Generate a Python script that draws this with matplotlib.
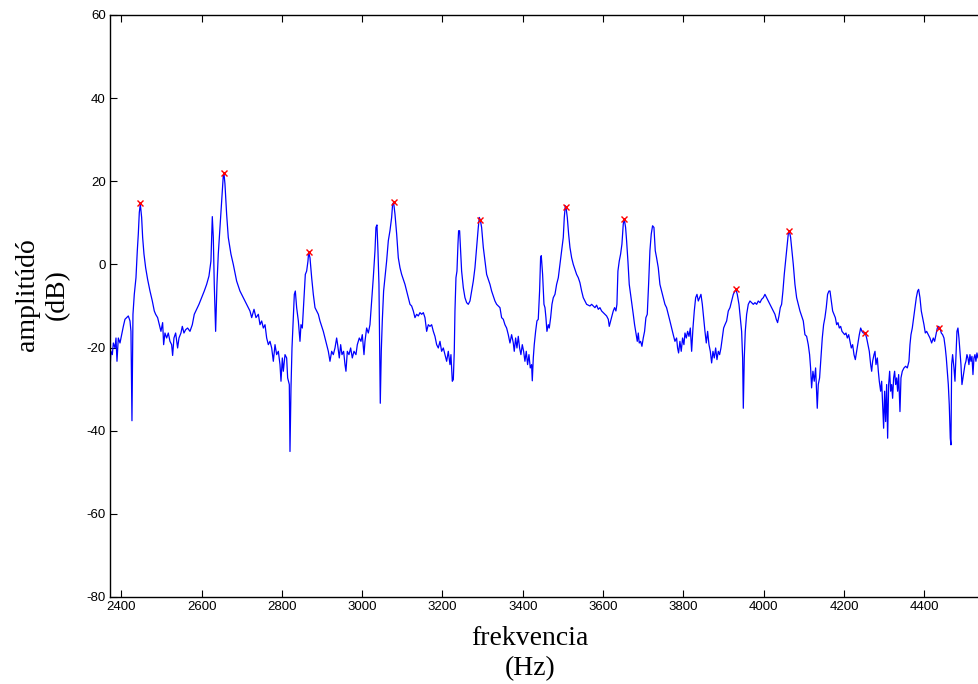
import matplotlib
matplotlib.use("Agg")
import matplotlib.pyplot as plt

plt.rcParams["axes.unicode_minus"] = False

# spectrum (Hz, dB)
freq_hz = [
    # 2372 - 2720
    2372.0, 2372.5, 2374.3, 2377.7, 2380.2, 2384.3, 2386.8, 2389.3, 2392.6, 2396.8,
    2400.9, 2405.1, 2409.2, 2413.4, 2417.5, 2421.7, 2424.1, 2426.6, 2429.1, 2432.4,
    2436.6, 2439.9, 2442.4, 2444.9, 2447.4, 2450.7, 2453.2, 2456.5, 2460.7, 2465.6,
    2471.5, 2477.3, 2482.2, 2485.6, 2490.5, 2494.7, 2498.8, 2503.0, 2505.5, 2508.8,
    2513.0, 2517.1, 2521.3, 2525.4, 2527.9, 2531.2, 2535.4, 2540.3, 2543.7, 2548.6,
    2552.0, 2556.1, 2560.3, 2565.2, 2571.1, 2576.9, 2581.8, 2587.7, 2593.5, 2600.1,
    2606.7, 2612.6, 2618.4, 2623.3, 2626.7, 2629.2, 2631.6, 2635.0, 2638.3, 2641.6,
    2645.8, 2649.9, 2654.1, 2655.7, 2658.2, 2662.4, 2666.5, 2673.1, 2679.0, 2687.3,
    2695.6, 2703.9, 2712.2, 2720.5,
    # 2720 - 3082
    2724.8, 2730.6, 2735.5, 2741.4, 2745.5, 2749.7, 2753.8, 2758.0, 2762.1, 2766.3,
    2770.4, 2774.6, 2778.7, 2782.9, 2787.0, 2791.2, 2795.3, 2797.8, 2801.1, 2803.6,
    2807.8, 2811.9, 2814.4, 2818.5, 2820.2, 2822.7, 2825.2, 2828.5, 2831.0, 2833.5,
    2836.8, 2841.0, 2845.1, 2847.6, 2850.9, 2855.1, 2858.4, 2861.7, 2865.0, 2866.7,
    2870.0, 2874.2, 2878.3, 2882.5, 2886.6, 2890.8, 2894.9, 2899.1, 2903.2, 2907.4,
    2911.5, 2915.7, 2919.8, 2924.0, 2928.1, 2932.3, 2936.4, 2938.9, 2943.0, 2946.4,
    2949.7, 2953.8, 2957.2, 2959.6, 2963.0, 2967.1, 2971.3, 2975.4, 2979.6, 2984.5,
    2987.9, 2992.8, 2997.0, 3000.3, 3004.5, 3007.0, 3011.1, 3015.3, 3019.4, 3023.6,
    3027.7, 3031.9, 3034.3, 3036.8, 3039.3, 3041.8, 3045.1, 3047.6, 3050.1, 3053.4,
    3056.8, 3060.9, 3065.1, 3069.2, 3073.4, 3075.8, 3078.3, 3081.7,
    # 3082 - 3444
    3085.9, 3090.0, 3094.2, 3098.3, 3102.5, 3106.6, 3110.8, 3114.9, 3119.1, 3123.2,
    3127.4, 3131.5, 3135.7, 3139.8, 3144.0, 3148.1, 3152.3, 3156.4, 3160.6, 3164.7,
    3168.9, 3173.0, 3177.2, 3181.3, 3185.5, 3189.6, 3193.8, 3197.9, 3202.1, 3206.2,
    3210.4, 3214.5, 3218.7, 3221.1, 3224.5, 3227.0, 3229.4, 3231.1, 3233.6, 3236.1,
    3238.6, 3240.2, 3242.7, 3245.2, 3247.7, 3251.9, 3256.0, 3260.2, 3264.3, 3268.5,
    3272.6, 3276.8, 3280.9, 3285.1, 3289.2, 3291.7, 3294.2, 3297.5, 3301.7, 3305.8,
    3310.0, 3314.1, 3318.3, 3322.4, 3326.6, 3330.7, 3334.9, 3339.0, 3343.2, 3347.3,
    3351.5, 3355.6, 3359.8, 3363.9, 3368.1, 3372.2, 3376.4, 3378.8, 3382.2, 3385.5,
    3388.8, 3392.1, 3395.4, 3398.8, 3402.1, 3405.4, 3408.7, 3412.0, 3415.4, 3418.7,
    3422.0, 3423.7, 3426.2, 3428.6, 3432.0, 3435.3, 3438.6, 3441.9, 3444.4,
    # 3444 - 3802
    3446.1, 3449.4, 3452.8, 3455.3, 3457.7, 3460.2, 3463.6, 3466.0, 3469.4, 3472.7,
    3476.0, 3480.2, 3484.3, 3488.5, 3492.6, 3496.8, 3500.9, 3503.4, 3505.9, 3507.5,
    3510.9, 3514.2, 3517.5, 3521.7, 3525.8, 3530.0, 3534.1, 3538.3, 3542.4, 3546.6,
    3550.7, 3554.9, 3559.0, 3563.2, 3567.3, 3571.5, 3575.6, 3579.8, 3583.9, 3588.1,
    3592.2, 3596.4, 3600.5, 3604.7, 3608.8, 3613.0, 3615.4, 3618.8, 3622.1, 3625.4,
    3628.7, 3632.0, 3634.5, 3637.0, 3640.3, 3643.7, 3647.0, 3650.3, 3652.8, 3656.1,
    3658.6, 3661.9, 3665.2, 3668.6, 3671.9, 3675.2, 3678.5, 3681.8, 3685.2, 3687.7,
    3690.1, 3693.5, 3696.8, 3700.1, 3703.4, 3706.7, 3710.1, 3713.4, 3716.7, 3720.0,
    3723.3, 3726.7, 3730.0, 3733.3, 3737.5, 3741.6, 3745.8, 3749.9, 3754.1, 3758.2,
    3762.4, 3766.5, 3770.7, 3774.8, 3779.0, 3783.1, 3785.6, 3788.1, 3791.4, 3794.7,
    3798.0, 3801.4,
    # 3804 - 4163
    3804.0, 3807.3, 3810.6, 3814.0, 3817.3, 3820.6, 3823.9, 3827.2, 3830.6, 3833.9,
    3837.2, 3840.5, 3843.8, 3847.2, 3850.5, 3853.8, 3857.1, 3860.4, 3863.8, 3867.1,
    3870.4, 3873.7, 3877.0, 3880.4, 3883.7, 3887.0, 3890.3, 3893.6, 3897.0, 3900.3,
    3903.6, 3907.8, 3911.9, 3916.1, 3920.2, 3924.4, 3928.5, 3931.0, 3934.3, 3938.5,
    3941.8, 3945.1, 3947.6, 3949.3, 3951.7, 3954.2, 3957.6, 3961.7, 3965.9, 3970.0,
    3974.2, 3978.3, 3982.5, 3986.6, 3990.8, 3994.9, 3999.1, 4003.2, 4007.4, 4011.5,
    4015.7, 4019.8, 4024.0, 4028.1, 4031.4, 4034.7, 4038.1, 4041.4, 4044.7, 4048.0,
    4051.3, 4054.7, 4058.0, 4061.3, 4063.8, 4067.1, 4070.4, 4073.8, 4077.9, 4082.1,
    4086.2, 4090.4, 4094.5, 4098.7, 4102.8, 4107.0, 4111.1, 4114.4, 4116.9, 4119.4,
    4122.7, 4126.0, 4129.4, 4131.9, 4133.5, 4136.0, 4139.3, 4142.6, 4146.0, 4149.3,
    4152.6, 4155.9, 4159.2, 4162.6,
    # 4165 - 4536
    4165.2, 4168.5, 4171.8, 4175.2, 4178.5, 4181.8, 4185.1, 4188.4, 4191.8, 4195.1,
    4198.4, 4201.7, 4205.0, 4208.4, 4211.7, 4215.0, 4218.3, 4221.6, 4225.0, 4228.3,
    4231.6, 4234.9, 4238.2, 4241.6, 4244.9, 4248.2, 4253.2, 4256.5, 4259.8, 4263.1,
    4266.5, 4269.0, 4271.4, 4274.8, 4277.3, 4279.7, 4283.1, 4285.6, 4288.0, 4291.4,
    4293.9, 4296.3, 4298.8, 4301.3, 4303.8, 4306.3, 4308.8, 4311.3, 4313.8, 4316.3,
    4318.8, 4321.2, 4323.7, 4326.2, 4328.7, 4331.2, 4333.7, 4336.2, 4339.5, 4342.0,
    4345.3, 4349.5, 4353.6, 4357.8, 4361.9, 4364.4, 4366.9, 4370.2, 4373.5, 4376.9,
    4380.2, 4383.5, 4386.0, 4389.3, 4392.6, 4395.9, 4399.3, 4402.6, 4405.9, 4410.1,
    4414.2, 4418.4, 4422.5, 4425.8, 4429.1, 4432.5, 4435.8, 4439.1, 4442.4, 4445.7,
    4449.1, 4452.4, 4454.9, 4457.4, 4459.9, 4462.3, 4464.8, 4466.5, 4468.2, 4470.6,
    4474.0, 4476.5, 4478.9, 4481.4, 4483.9, 4486.4, 4488.9, 4491.4, 4493.9, 4496.4,
    4498.9, 4501.4, 4503.8, 4506.3, 4508.8, 4511.3, 4513.8, 4516.3, 4518.8, 4521.3,
    4523.8, 4526.3, 4528.7, 4531.2, 4533.7, 4536.2,
]

amp_db = [
    # 2372 - 2720
    -31.8, -24.1, -20.9, -21.7, -18.9, -20.1, -17.7, -23.3, -17.7, -18.9,
    -16.9, -14.9, -13.2, -12.8, -12.4, -13.6, -16.1, -37.6, -12.0, -7.2,
    -3.2, 3.3, 7.3, 12.5, 14.5, 11.3, 6.5, 2.5, -0.8, -3.6,
    -6.4, -8.8, -11.2, -12.0, -12.8, -14.5, -16.1, -14.0, -19.3, -16.5,
    -17.7, -16.5, -18.5, -19.3, -21.9, -17.7, -16.5, -20.1, -17.7, -16.5,
    -14.9, -16.5, -15.7, -15.3, -16.1, -14.5, -12.0, -10.8, -9.6, -8.0,
    -6.4, -4.8, -2.8, 0.8, 11.5, 6.5, -4.8, -16.1, -4.8, 2.5,
    8.9, 15.3, 21.4, 21.9, 19.4, 12.1, 6.5, 2.5, 0.0, -4.0,
    -6.4, -8.0, -9.6, -11.2,
    # 2720 - 3082
    -12.8, -10.8, -12.8, -12.0, -14.5, -13.6, -15.3, -14.5, -17.7, -19.3,
    -18.5, -20.1, -23.3, -19.3, -21.7, -20.9, -24.1, -28.1, -22.5, -25.7,
    -21.7, -22.5, -27.3, -28.9, -45.0, -29.7, -20.1, -12.8, -7.2, -6.4,
    -10.4, -13.6, -18.5, -14.5, -15.3, -8.0, -2.4, -1.6, 0.8, 3.0,
    1.6, -3.2, -7.2, -10.4, -11.2, -12.0, -13.6, -14.9, -16.1, -17.7,
    -19.3, -20.9, -23.3, -20.9, -21.7, -20.1, -17.7, -19.3, -22.5, -19.3,
    -21.7, -20.9, -24.1, -25.7, -20.9, -21.7, -20.1, -22.5, -20.9, -21.7,
    -19.3, -17.7, -18.5, -16.9, -21.7, -18.5, -15.3, -16.5, -14.5, -8.8,
    -3.2, 3.3, 8.9, 9.5, 3.3, -4.8, -33.4, -20.9, -13.6, -6.4,
    -3.2, 0.8, 5.7, 8.1, 11.3, 14.5, 14.9, 12.1,
    # 3082 - 3444
    7.3, 1.6, -0.8, -2.4, -3.6, -4.8, -6.4, -8.0, -9.6, -10.0,
    -11.2, -12.8, -12.0, -12.4, -11.6, -12.0, -11.6, -12.8, -16.1, -14.5,
    -14.9, -14.5, -16.1, -17.3, -19.3, -20.1, -18.5, -20.9, -20.1, -21.7,
    -23.3, -20.9, -24.1, -21.7, -28.1, -27.7, -20.9, -11.2, -3.2, -1.6,
    4.9, 8.1, 8.1, 3.3, -1.6, -5.6, -8.0, -9.2, -9.6, -8.8,
    -6.4, -4.0, -0.8, 4.1, 8.9, 11.3, 10.7, 8.9, 4.1, 0.8,
    -2.4, -3.6, -4.8, -6.4, -7.6, -8.8, -9.6, -10.0, -10.4, -12.8,
    -13.2, -14.5, -15.3, -16.9, -18.9, -16.9, -18.9, -20.9, -17.7, -20.1,
    -17.3, -20.1, -21.7, -19.3, -20.9, -23.3, -20.9, -24.1, -21.7, -24.9,
    -24.1, -28.0, -22.5, -19.3, -16.1, -13.6, -13.2, -6.4, 1.6,
    # 3444 - 3802
    2.1, -2.4, -9.6, -10.4, -12.8, -16.1, -14.5, -15.3, -12.8, -9.6,
    -8.0, -7.2, -4.8, -3.2, 0.0, 3.3, 6.5, 11.3, 14.1, 13.9,
    11.3, 7.3, 4.1, 1.6, 0.0, -1.2, -2.4, -3.2, -4.4, -6.4,
    -8.0, -8.8, -9.6, -9.8, -10.0, -9.6, -10.0, -10.4, -9.8, -10.8,
    -10.4, -11.2, -11.6, -12.0, -12.4, -13.2, -14.9, -13.6, -12.4, -11.2,
    -10.4, -11.2, -9.6, -1.6, 0.8, 2.5, 4.9, 9.7, 10.9, 8.9,
    5.7, 0.8, -4.8, -7.2, -9.6, -12.0, -14.5, -16.5, -18.5, -16.5,
    -18.9, -18.5, -19.7, -17.7, -16.1, -12.8, -12.0, -4.8, 3.3, 7.3,
    9.3, 8.9, 3.3, 1.6, -0.8, -4.8, -6.4, -8.0, -9.6, -10.4,
    -12.0, -13.6, -15.3, -16.9, -18.5, -17.7, -20.1, -21.3, -18.5, -20.9,
    -17.7, -19.3,
    # 3804 - 4163
    -16.5, -17.7, -16.1, -17.3, -15.3, -20.9, -15.3, -11.2, -8.0, -7.2,
    -8.8, -8.0, -7.2, -9.6, -12.8, -16.1, -18.9, -16.1, -19.3, -20.9,
    -23.7, -20.9, -22.5, -20.1, -22.9, -20.9, -21.7, -20.1, -17.7, -15.3,
    -14.5, -13.6, -11.2, -10.4, -8.8, -7.2, -6.4, -6.0, -7.2, -9.6,
    -12.8, -16.1, -22.5, -34.6, -22.5, -16.1, -12.0, -9.6, -8.8, -9.2,
    -9.6, -9.2, -9.6, -8.8, -9.2, -8.4, -8.0, -7.2, -8.0, -8.8,
    -9.6, -10.4, -11.2, -12.0, -13.2, -14.0, -12.4, -10.4, -9.6, -6.4,
    -2.4, 0.8, 4.1, 7.3, 8.1, 6.5, 3.3, 0.0, -4.8, -8.0,
    -9.6, -11.2, -12.4, -13.6, -16.9, -17.3, -19.3, -21.7, -24.9, -29.7,
    -25.7, -28.1, -24.9, -30.5, -34.6, -28.9, -27.3, -22.5, -17.7, -14.5,
    -12.8, -10.4, -7.2, -6.4,
    # 4165 - 4536
    -6.4, -8.8, -11.2, -12.0, -12.8, -14.5, -14.0, -15.3, -14.9, -16.1,
    -16.5, -16.9, -16.5, -17.7, -16.9, -18.5, -20.1, -19.3, -21.7, -22.9,
    -20.9, -18.9, -16.9, -15.3, -16.1, -16.5, -16.6, -17.7, -19.3, -20.9,
    -24.1, -25.7, -23.3, -21.7, -20.9, -24.1, -22.5, -25.7, -28.1, -30.5,
    -28.1, -33.8, -39.4, -30.5, -37.8, -28.9, -41.8, -28.9, -25.7, -30.5,
    -28.9, -32.2, -27.3, -25.7, -28.9, -27.3, -30.5, -26.5, -35.4, -27.3,
    -25.7, -24.9, -24.5, -24.9, -23.3, -19.3, -16.9, -15.3, -12.8, -10.4,
    -8.0, -6.4, -6.0, -8.0, -11.2, -12.8, -14.5, -16.5, -16.1, -16.9,
    -17.7, -18.9, -17.7, -18.5, -16.9, -15.3, -14.9, -15.3, -16.5, -16.9,
    -17.7, -20.1, -22.5, -25.7, -28.9, -33.8, -41.8, -43.4, -24.1, -21.7,
    -24.9, -28.1, -22.5, -16.1, -15.3, -17.7, -20.9, -24.1, -28.9, -27.3,
    -25.7, -24.1, -23.3, -21.7, -22.5, -24.1, -21.7, -23.3, -22.1, -26.5,
    -22.5, -21.7, -23.3, -21.3, -22.5, -21.7,
]

# detected peaks (red crosses)
peak_hz = [2446.6, 2655.7, 2866.7, 3078.3, 3294.2, 3507.5, 3652.8, 3931.0, 4063.8, 4253.2, 4437.4]
peak_db = [14.8, 21.9, 3.0, 14.9, 10.7, 13.9, 10.9, -6.0, 8.1, -16.6, -15.4]

xticks = [2400, 2600, 2800, 3000, 3200, 3400, 3600, 3800, 4000, 4200, 4400]
yticks = [-80, -60, -40, -20, 0, 20, 40, 60]

fig = plt.figure(figsize=(9.79, 6.84), dpi=100)
# axes runs past the right edge of the picture, like the cropped original
ax = fig.add_axes([0.1124, 0.1272, 0.8973, 0.8509])

ax.plot(freq_hz, amp_db, color="#0000ff", linewidth=0.9)
ax.plot(peak_hz, peak_db, "x", color="red", markersize=4.5, markeredgewidth=1)

ax.set_xlim(2372, 4560)
ax.set_ylim(-80, 60)
ax.set_xticks(xticks)
ax.set_yticks(yticks)
ax.tick_params(direction="in", length=5, width=0.8, top=True, right=True,
               labelsize=9.5, pad=3)
for lab in ax.get_xticklabels() + ax.get_yticklabels():
    lab.set_fontfamily("Liberation Sans")
for sp in ax.spines.values():
    sp.set_linewidth(1.0)

ax.set_xlabel("frekvencia\n(Hz)", family="Liberation Serif", fontsize=20,
              linespacing=1.25)
ax.xaxis.set_label_coords(0.478, -0.05)
ax.set_ylabel("amplitúdó\n(dB)", family="Liberation Serif", fontsize=20,
              linespacing=1.25)
ax.yaxis.set_label_coords(-0.046, 0.52)

plt.savefig("out.png", dpi=100)
